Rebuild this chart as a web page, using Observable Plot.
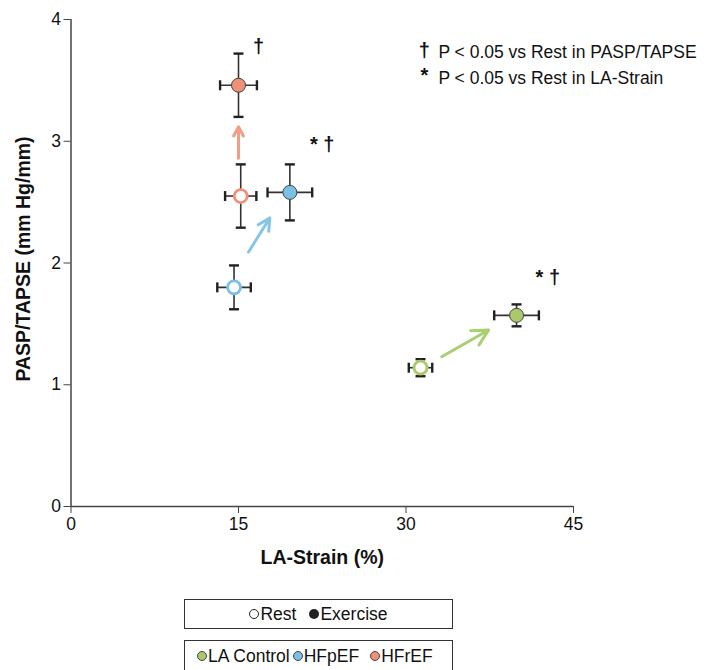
<!DOCTYPE html>
<html>
<head>
<meta charset="utf-8">
<script src="https://cdn.jsdelivr.net/npm/d3@7"></script>
<script src="https://cdn.jsdelivr.net/npm/@observablehq/plot@0.6"></script>
<style>
  html, body { margin: 0; padding: 0; background: #fff; }
  body { width: 709px; height: 670px; position: relative; overflow: hidden; font-family: "Liberation Sans", Arial, sans-serif; }
  #chart { position: absolute; left: 0; top: 0; }
  .legend { position: absolute; left: 184px; width: 267px; border: 1px solid #333; box-sizing: content-box;
            display: flex; align-items: center; justify-content: center; font-size: 17.5px; color: #111; }
  .sw { display: inline-block; width: 10px; height: 10px; border-radius: 50%; box-sizing: border-box; margin-right: 1px; }
</style>
</head>
<body>
<div id="chart"></div>
<div class="legend" style="top:599px;height:28px;">
  <span class="sw" style="border:1.2px solid #222;background:#fff"></span><span>Rest</span>
  <span style="display:inline-block;width:13px"></span>
  <span class="sw" style="background:#222"></span><span>Exercise</span>
</div>
<div class="legend" style="top:640px;height:30px;justify-content:flex-start;">
  <span style="display:inline-block;width:12px"></span>
  <span class="sw" style="background:#a9c96b;border:1px solid #444"></span><span>LA Control</span>
  <span style="display:inline-block;width:3px"></span>
  <span class="sw" style="background:#7ac0e4;border:1px solid #444"></span><span>HFpEF</span>
  <span style="display:inline-block;width:11px"></span>
  <span class="sw" style="background:#f19079;border:1px solid #444"></span><span>HFrEF</span>
</div>
<script>
// ---- data ----
const groups = ["LA Control", "HFpEF", "HFrEF"];
const groupColors = ["#a9c96b", "#7ac0e4", "#f19079"];
const arrowColors = ["#a8cf70", "#84c5e8", "#f39c87"];

const restX    = [31.3, 14.6, 15.2];
const restXErr = [1.05, 1.5, 1.4];
const restY    = [1.14, 1.80, 2.55];
const restYErr = [0.07, 0.18, 0.26];

const exX    = [39.9, 19.6, 15.0];
const exXErr = [2.0, 2.0, 1.65];
const exY    = [1.57, 2.58, 3.46];
const exYErr = [0.09, 0.23, 0.26];

const arrowX1 = [33.2, 15.9, 15.0];
const arrowY1 = [1.23, 2.09, 2.86];
const arrowX2 = [37.4, 17.8, 15.0];
const arrowY2 = [1.45, 2.37, 3.12];

const sigText = ["* \u2020", "* \u2020", "\u2020"];
const sigX = [42.7, 22.5, 16.8];
const sigY = [1.88, 2.97, 3.78];

const xTicks = [0, 15, 30, 45];
const yTicks = [0, 1, 2, 3, 4];

const noteSymbols = ["\u2020", "*"];
const noteTexts = ["P < 0.05 vs Rest in PASP/TAPSE", "P < 0.05 vs Rest in LA-Strain"];
const noteX = 32.9;
const noteSymX = 31.65;
const noteY = [3.73, 3.52];

// ---- build tables ----
const points = [];
groups.forEach((g, i) => {
  points.push({group: g, state: "Rest", x: restX[i], y: restY[i], xe: restXErr[i], ye: restYErr[i]});
});
groups.forEach((g, i) => {
  points.push({group: g, state: "Exercise", x: exX[i], y: exY[i], xe: exXErr[i], ye: exYErr[i]});
});
const arrows = groups.map((g, i) => ({group: g, x1: arrowX1[i], y1: arrowY1[i], x2: arrowX2[i], y2: arrowY2[i]}));
const sigs = sigText.map((t, i) => ({t, x: sigX[i], y: sigY[i]}));
const notes = noteTexts.map((t, i) => ({t, s: noteSymbols[i], y: noteY[i]}));

const capH = { draw(ctx, size) { const r = Math.sqrt(size / Math.PI); ctx.moveTo(-r, 0); ctx.lineTo(r, 0); } };
const capV = { draw(ctx, size) { const r = Math.sqrt(size / Math.PI); ctx.moveTo(0, -r); ctx.lineTo(0, r); } };

const capsY = points.flatMap(d => [{x: d.x, y: d.y - d.ye}, {x: d.x, y: d.y + d.ye}]);
const capsX = points.flatMap(d => [{x: d.x - d.xe, y: d.y}, {x: d.x + d.xe, y: d.y}]);

const colorOf = g => groupColors[groups.indexOf(g)];
const arrowColorOf = g => arrowColors[groups.indexOf(g)];

const axisColor = "#444";

const plot = Plot.plot({
  width: 709,
  height: 580,
  marginLeft: 70.5,
  marginRight: 136,
  marginTop: 19,
  marginBottom: 74,
  style: { fontFamily: "'Liberation Sans', Arial, sans-serif", fontSize: "17.5px", color: "#111", background: "transparent", overflow: "visible" },
  x: { domain: [0, 45], ticks: xTicks, label: null },
  y: { domain: [0, 4], ticks: yTicks, label: null },
  marks: [
    Plot.ruleY([0], {stroke: axisColor, strokeWidth: 1.5}),
    Plot.ruleX([0], {stroke: axisColor, strokeWidth: 1.5}),
    Plot.axisX({ticks: xTicks, tickSize: 7, tickPadding: 4, stroke: axisColor, fontSize: 17.5, tickFormat: d3.format("d"), label: null}),
    Plot.axisY({ticks: yTicks, tickSize: 7, tickPadding: 3, stroke: axisColor, fontSize: 17.5, tickFormat: d3.format("d"), label: null}),
    Plot.text(["LA-Strain (%)"], {frameAnchor: "bottom", dy: 51, lineAnchor: "middle", textAnchor: "middle", fontWeight: "bold", fontSize: 19.5, fill: "#111"}),
    Plot.text(["PASP/TAPSE (mm Hg/mm)"], {frameAnchor: "left", dx: -47.5, dy: -4, rotate: -90, textAnchor: "middle", lineAnchor: "middle", fontWeight: "bold", fontSize: 19.5, fill: "#111"}),
    // arrows
    Plot.arrow(arrows, {x1: "x1", y1: "y1", x2: "x2", y2: "y2", stroke: d => arrowColorOf(d.group), strokeWidth: 3, headLength: 12, headAngle: 55, bend: false}),
    // error bars
    Plot.link(points, {x1: "x", x2: "x", y1: d => d.y - d.ye, y2: d => d.y + d.ye, stroke: "#333", strokeWidth: 1.6}),
    Plot.link(points, {x1: d => d.x - d.xe, x2: d => d.x + d.xe, y1: "y", y2: "y", stroke: "#333", strokeWidth: 1.6}),
    Plot.dot(capsY, {x: "x", y: "y", symbol: capH, r: 5, stroke: "#222", strokeWidth: 2.4, fill: "none"}),
    Plot.dot(capsX, {x: "x", y: "y", symbol: capV, r: 5, stroke: "#222", strokeWidth: 2.4, fill: "none"}),
    // points
    Plot.dot(points.filter(d => d.state === "Rest"), {x: "x", y: "y", r: 6.5, fill: "#fff", stroke: d => colorOf(d.group), strokeWidth: 2.8}),
    Plot.dot(points.filter(d => d.state === "Exercise"), {x: "x", y: "y", r: 7, fill: d => colorOf(d.group), stroke: "#444", strokeWidth: 1}),
    // significance marks
    Plot.text(sigs, {x: "x", y: "y", text: "t", fontWeight: "bold", fontSize: 20, fill: "#111"}),
    // notes
    Plot.text(notes, {x: noteSymX, y: "y", dy: -2, text: "s", fontWeight: "bold", fontSize: 20, fill: "#111"}),
    Plot.text(notes, {x: noteX, y: "y", text: "t", textAnchor: "start", fontSize: 17.5, fill: "#111"})
  ]
});
document.getElementById("chart").appendChild(plot);
</script>
</body>
</html>
